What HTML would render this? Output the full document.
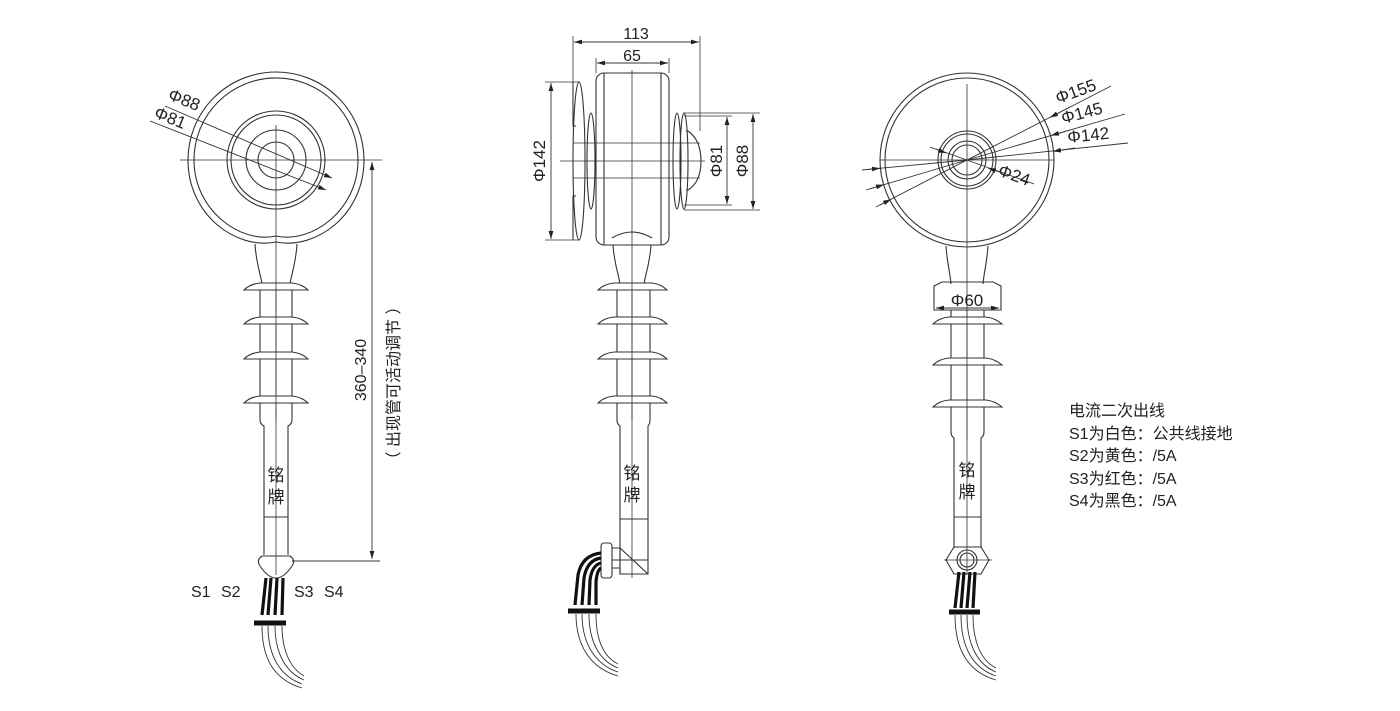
<!DOCTYPE html>
<html><head><meta charset="utf-8">
<style>
html,body{margin:0;padding:0;background:#fff;}
svg{display:block;}
text{font-family:"Liberation Sans","Noto Sans CJK SC",sans-serif;fill:#222;}
</style></head>
<body>
<svg width="1400" height="711" viewBox="0 0 1400 711" xmlns="http://www.w3.org/2000/svg">
<defs>
<marker id="a" viewBox="0 0 10 6" refX="10" refY="3" markerWidth="8" markerHeight="5" orient="auto-start-reverse" markerUnits="userSpaceOnUse"><path d="M0,0L10,3L0,6z" fill="#222"/></marker>
</defs>
<g fill="none" stroke="#333" stroke-width="1.1">
<!-- ===== LEFT VIEW ===== -->
<path d="M276,242 C236,250 188,215 188,160 A88,88 0 1 1 364,160 C364,215 316,250 276,242"/>
<path d="M276,236 C240,244 194,210 194,160 A82,82 0 1 1 358,160 C358,210 312,244 276,236"/>
<circle cx="276" cy="160" r="49"/><circle cx="276" cy="160" r="45"/>
<circle cx="276" cy="160" r="30"/><circle cx="276" cy="160" r="18"/>
<line x1="180" y1="160" x2="382" y2="160" stroke-width="0.8"/>
<line x1="276" y1="125" x2="276" y2="575" stroke-width="0.8"/>
<path d="M255,244 C256,262 260,272 262,284 M297,244 C296,262 292,272 290,284"/>
<g fill="#fff">
<path d="M244,290 Q250,284 260,283 L292,283 Q302,284 308,290 Z"/>
<path d="M244,324 Q250,318 260,317 L292,317 Q302,318 308,324 Z"/>
<path d="M244,359 Q250,353 260,352 L292,352 Q302,353 308,359 Z"/>
<path d="M244,403 Q250,397 260,396 L292,396 Q302,397 308,403 Z"/>
</g>
<path d="M260,290 L260,317 M292,290 L292,317 M260,324 L260,352 M292,324 L292,352 M260,359 L260,396 M292,359 L292,396 M260,403 L260,420 Q260,424 264,426 L264,555 M292,403 L292,420 Q292,424 288,426 L288,555"/>
<line x1="276" y1="283" x2="276" y2="420" stroke-width="0.8"/>
<line x1="264" y1="517" x2="288" y2="517"/>
<path d="M262,556 Q256,560 260,566 Q268,578 276,578 Q284,578 292,566 Q296,560 290,556 Z"/>
<g stroke="#111" stroke-width="3.2"><path d="M266,578 L262,615"/><path d="M271,578 L268,615"/><path d="M277,578 L275,615"/><path d="M283,578 L282,615"/></g>
<line x1="254" y1="623" x2="286" y2="623" stroke="#111" stroke-width="5"/>
<g stroke-width="0.9"><path d="M262,626 C262,660 275,680 302,688"/><path d="M268,626 C268,656 280,676 302,684"/><path d="M275,626 C275,652 285,672 304,680"/><path d="M282,626 C282,650 290,668 304,676"/></g>
<line x1="372" y1="162" x2="372" y2="559" marker-start="url(#a)" marker-end="url(#a)" stroke-width="0.9"/>
<line x1="292" y1="561" x2="380" y2="561" stroke-width="0.9"/>
<line x1="165" y1="106" x2="332" y2="178" marker-end="url(#a)" stroke-width="0.9"/>
<line x1="150" y1="121" x2="326" y2="190" marker-end="url(#a)" stroke-width="0.9"/>

<!-- ===== MIDDLE VIEW ===== -->
<rect x="596" y="73" width="73" height="172" rx="8" fill="none"/>
<line x1="604" y1="73" x2="604" y2="245"/><line x1="661" y1="73" x2="661" y2="245"/>
<line x1="632" y1="70" x2="632" y2="578" stroke-width="0.8"/>
<ellipse cx="579" cy="161" rx="6" ry="79"/>
<path d="M573,82 L573,126 L576,126 M573,196 L576,196 L573,196 L573,240"/>
<ellipse cx="591" cy="161" rx="4" ry="48"/>
<ellipse cx="677" cy="161" rx="4" ry="48"/><ellipse cx="684" cy="161" rx="4" ry="48"/>
<path d="M686,131 L688,131 Q701,140 701,161 Q701,182 688,190 L686,190"/>
<line x1="573" y1="143" x2="700" y2="143" stroke-width="0.8"/>
<line x1="560" y1="161" x2="705" y2="161" stroke-width="0.8"/>
<line x1="573" y1="178" x2="700" y2="178" stroke-width="0.8"/>
<path d="M612,238 Q632,226 652,238"/>
<path d="M613,245 C614,262 618,272 620,284 M651,245 C650,262 646,272 644,284"/>
<g fill="#fff">
<path d="M598,290 Q604,284 614,283 L652,283 Q661,284 667,290 Z"/>
<path d="M598,324 Q604,318 614,317 L652,317 Q661,318 667,324 Z"/>
<path d="M598,359 Q604,353 614,352 L652,352 Q661,353 667,359 Z"/>
<path d="M598,403 Q604,397 614,396 L652,396 Q661,397 667,403 Z"/>
</g>
<path d="M617,290 L617,317 M650,290 L650,317 M617,324 L617,352 M650,324 L650,352 M617,359 L617,396 M650,359 L650,396 M617,403 L617,420 Q617,424 620,426 L620,574 L648,574 L648,426 Q650,424 650,420 L650,403"/>
<line x1="632" y1="283" x2="632" y2="420" stroke-width="0.8"/>
<line x1="620" y1="519" x2="648" y2="519"/>
<line x1="612" y1="560" x2="648" y2="560"/>
<path d="M612,548 L620,548 L620,574 M612,568 L620,568 L620,548 L648,574"/>
<rect x="601" y="543" width="11" height="35" rx="3"/>
<g stroke="#111" stroke-width="3.2"><path d="M601,553 Q582,555 578,575 L575,605"/><path d="M601,558 Q587,560 584,578 L582,605"/><path d="M601,563 Q592,565 590,580 L589,605"/><path d="M601,568 Q597,570 596,582 L596,605"/></g>
<line x1="568" y1="611" x2="600" y2="611" stroke="#111" stroke-width="5"/>
<g stroke-width="0.9"><path d="M576,614 C576,645 590,668 618,676"/><path d="M582,614 C582,642 594,664 618,672"/><path d="M589,614 C589,640 598,660 618,668"/><path d="M596,614 C596,638 602,656 618,664"/></g>
<line x1="573" y1="36" x2="573" y2="82" stroke-width="0.8"/><line x1="700" y1="36" x2="700" y2="131" stroke-width="0.8"/>
<line x1="574" y1="42" x2="699" y2="42" marker-start="url(#a)" marker-end="url(#a)" stroke-width="0.9"/>
<line x1="596" y1="58" x2="596" y2="73" stroke-width="0.8"/><line x1="669" y1="58" x2="669" y2="73" stroke-width="0.8"/>
<line x1="597" y1="63" x2="668" y2="63" marker-start="url(#a)" marker-end="url(#a)" stroke-width="0.9"/>
<line x1="545" y1="82" x2="580" y2="82" stroke-width="0.8"/><line x1="545" y1="240" x2="580" y2="240" stroke-width="0.8"/>
<line x1="551" y1="83" x2="551" y2="239" marker-start="url(#a)" marker-end="url(#a)" stroke-width="0.9"/>
<line x1="684" y1="113" x2="760" y2="113" stroke-width="0.8"/><line x1="684" y1="210" x2="760" y2="210" stroke-width="0.8"/>
<line x1="684" y1="116" x2="732" y2="116" stroke-width="0.8"/><line x1="684" y1="205" x2="732" y2="205" stroke-width="0.8"/>
<line x1="727" y1="117" x2="727" y2="204" marker-start="url(#a)" marker-end="url(#a)" stroke-width="0.9"/>
<line x1="753" y1="114" x2="753" y2="209" marker-start="url(#a)" marker-end="url(#a)" stroke-width="0.9"/>

<!-- ===== RIGHT VIEW ===== -->
<circle cx="967" cy="160" r="87"/><circle cx="967" cy="160" r="82"/>
<circle cx="967" cy="160" r="29"/><circle cx="967" cy="160" r="26"/>
<circle cx="967" cy="160" r="19"/><circle cx="967" cy="160" r="15"/>
<line x1="880" y1="160" x2="1054" y2="160" stroke-width="0.8"/>
<line x1="967" y1="84" x2="967" y2="575" stroke-width="0.8"/>
<path d="M946,246 C947,262 950,272 951,284 M988,246 C987,262 984,272 983,284"/>
<path d="M942,282 L934,286 L934,310 L1001,310 L1001,286 L993,282 Z"/>
<line x1="936" y1="308" x2="999" y2="308" marker-start="url(#a)" marker-end="url(#a)" stroke-width="0.9"/>
<g fill="#fff">
<path d="M933,324 Q939,318 949,317 L986,317 Q995,318 1002,324 Z"/>
<path d="M933,365 Q939,359 949,358 L986,358 Q995,359 1002,365 Z"/>
<path d="M933,407 Q939,401 949,400 L986,400 Q995,401 1002,407 Z"/>
</g>
<path d="M951,310 L951,317 M984,310 L984,317 M951,324 L951,358 M984,324 L984,358 M951,365 L951,400 M984,365 L984,400 M951,407 L951,432 Q951,436 954,438 L954,548 M984,407 L984,432 Q984,436 981,438 L981,548"/>
<line x1="967" y1="310" x2="967" y2="440" stroke-width="0.8"/>
<line x1="954" y1="517" x2="981" y2="517"/>
<path d="M954,547 L981,547 L989,560 L981,574 L954,574 L946,560 Z"/>
<line x1="944" y1="560" x2="992" y2="560" stroke-width="0.8"/>
<circle cx="967" cy="560" r="10"/><circle cx="967" cy="560" r="7"/>
<g stroke="#111" stroke-width="3.2"><path d="M959,572 L955,608"/><path d="M964,572 L961,608"/><path d="M970,572 L967,608"/><path d="M975,572 L973,608"/></g>
<line x1="949" y1="612" x2="980" y2="612" stroke="#111" stroke-width="5"/>
<g stroke-width="0.9"><path d="M955,615 C955,650 968,672 996,680"/><path d="M961,615 C961,646 972,668 996,676"/><path d="M967,615 C967,642 976,664 996,672"/><path d="M973,615 C973,640 980,660 996,668"/></g>
<g stroke-width="0.9">
<path d="M862,170 L967,160 L1111,86"/>
<path d="M866,190 L967,160 L1125,114"/>
<path d="M876,207 L967,160 L1128,143"/>
<line x1="866" y1="169.6" x2="880" y2="168.3" marker-end="url(#a)"/>
<line x1="870" y1="188.8" x2="884" y2="184.6" marker-end="url(#a)"/>
<line x1="880" y1="205" x2="891" y2="199.3" marker-end="url(#a)"/>
<line x1="1070" y1="107" x2="1050" y2="117.5" marker-end="url(#a)"/>
<line x1="1070" y1="130" x2="1051" y2="135.5" marker-end="url(#a)"/>
<line x1="1075" y1="148" x2="1053" y2="151.4" marker-end="url(#a)"/>
<line x1="936" y1="149" x2="1034" y2="184"/>
<line x1="930" y1="147" x2="946" y2="153" marker-end="url(#a)"/>
<line x1="1002" y1="173" x2="988" y2="168" marker-end="url(#a)"/>
</g>
</g>

<g font-size="17">
<text x="167" y="99" transform="rotate(22 167 99)">Φ88</text>
<text x="153" y="117" transform="rotate(22 153 117)">Φ81</text>
<text x="191" y="597" font-size="16">S1</text><text x="221" y="597" font-size="16">S2</text>
<text x="294" y="597" font-size="16">S3</text><text x="324" y="597" font-size="16">S4</text>
<text x="276" y="481" text-anchor="middle">铭</text>
<text x="276" y="503" text-anchor="middle">牌</text>
<text transform="translate(366,370) rotate(-90)" text-anchor="middle" font-size="16">360–340</text>
<text transform="translate(399,383) rotate(-90)" text-anchor="middle" font-size="16">（ 出现管可活动调节 ）</text>

<text x="636" y="39" text-anchor="middle" font-size="16">113</text>
<text x="632" y="61" text-anchor="middle" font-size="16">65</text>
<text transform="translate(545,161) rotate(-90)" text-anchor="middle">Φ142</text>
<text transform="translate(722,161) rotate(-90)" text-anchor="middle">Φ81</text>
<text transform="translate(748,161) rotate(-90)" text-anchor="middle">Φ88</text>
<text x="632" y="479" text-anchor="middle">铭</text>
<text x="632" y="501" text-anchor="middle">牌</text>

<text x="1058" y="104" transform="rotate(-20 1058 104)">Φ155</text>
<text x="1063" y="124" transform="rotate(-15 1063 124)">Φ145</text>
<text x="1068" y="143" transform="rotate(-6 1068 143)">Φ142</text>
<text x="997" y="175" transform="rotate(20 997 175)">Φ24</text>
<text x="967" y="306" text-anchor="middle">Φ60</text>
<text x="967" y="476" text-anchor="middle">铭</text>
<text x="967" y="498" text-anchor="middle">牌</text>

<text x="1069" y="416" font-size="16">电流二次出线</text>
<text x="1069" y="439" font-size="16">S1为白色：公共线接地</text>
<text x="1069" y="461" font-size="16">S2为黄色：/5A</text>
<text x="1069" y="484" font-size="16">S3为红色：/5A</text>
<text x="1069" y="506" font-size="16">S4为黑色：/5A</text>
</g>
</svg>
</body></html>
